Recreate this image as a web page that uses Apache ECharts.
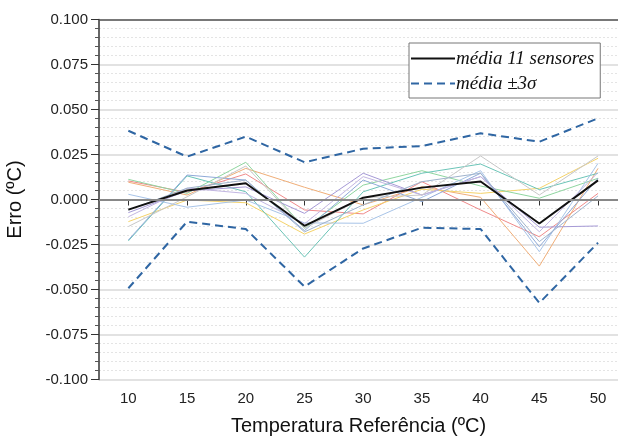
<!DOCTYPE html>
<html>
<head>
<meta charset="utf-8">
<script src="https://cdn.jsdelivr.net/npm/echarts@6/dist/echarts.min.js"></script>
<style>
  html, body { margin: 0; padding: 0; background: #fff; }
  #chart { width: 618px; height: 437px; }
</style>
</head>
<body>
<div id="chart"></div>
<script>
// temperaturas de referência
const temps = [10, 15, 20, 25, 30, 35, 40, 45, 50]

// erro de cada sensor
const s1 = [0.0103, 0.0040, 0.0142, -0.0058, -0.0080, 0.0099, -0.0058, -0.0207, 0.0034]
const s2 = [0.0096, 0.0025, 0.0173, 0.0068, -0.0030, 0.0071, 0.0012, -0.0370, 0.0173]
const s3 = [-0.0123, -0.0003, -0.0018, -0.0192, -0.0058, 0.0057, 0.0034, 0.0062, 0.0229]
const s4 = [0.0112, 0.0034, 0.0207, -0.0160, 0.0080, 0.0160, 0.0075, 0.0007, 0.0118]
const s5 = [-0.0230, 0.0131, 0.0043, -0.0320, 0.0043, 0.0146, 0.0197, 0.0055, 0.0146]
const s6 = [0.0029, -0.0043, -0.0003, -0.0130, -0.0132, 0.0012, 0.0160, -0.0290, 0.0201]
const s7 = [-0.0225, 0.0136, 0.0108, -0.0173, 0.0108, -0.0012, 0.0146, -0.0262, 0.0118]
const s8 = [-0.0073, 0.0048, 0.0070, -0.0077, 0.0146, 0.0025, 0.0127, -0.0154, -0.0147]
const s9 = [-0.0096, 0.0063, 0.0034, -0.0135, 0.0127, 0.0025, 0.0127, -0.0179, 0.0150]
const s10 = [-0.0150, 0.0015, 0.0186, -0.0160, 0.0010, 0.0025, 0.0242, 0.0025, 0.0242]
const s11 = [-0.0059, 0.0063, 0.0108, -0.0180, -0.0030, 0.0099, 0.0146, -0.0234, 0.0020]
const sensors = [s1, s2, s3, s4, s5, s6, s7, s8, s9, s10, s11]
const sensorColors = ['#f08a8a', '#f0ae78', '#f5d36a', '#8fd6a0', '#6cc5b8', '#a8c4e8',
  '#8faad8', '#a69ad6', '#c2b6e2', '#c8c8c8', '#9fb3cc']

// média e média ± 3 sigma
const media = [-0.0056, 0.0050, 0.0090, -0.0146, 0.0010, 0.0066, 0.0100, -0.0133, 0.0106]
const upper = [0.0382, 0.0238, 0.0349, 0.0207, 0.0282, 0.0297, 0.0368, 0.0321, 0.0451]
const lower = [-0.0493, -0.0123, -0.0164, -0.0484, -0.0272, -0.0157, -0.0164, -0.0575, -0.0240]

const pairs = arr => arr.map((v, i) => [temps[i], v])

const chart = echarts.init(document.getElementById('chart'))

const series = sensors.map((s, i) => ({
  type: 'line',
  data: pairs(s),
  symbol: 'none',
  silent: true,
  lineStyle: { width: 1, color: sensorColors[i] },
  z: 2
}))

series.push({
  name: 'média ±3σ',
  type: 'line',
  data: pairs(upper),
  symbol: 'none',
  lineStyle: { width: 2, color: '#2f66a3', type: [8, 5] },
  itemStyle: { color: '#2f66a3' },
  z: 3,
  markLine: {
    silent: true,
    symbol: 'none',
    label: { show: false },
    data: [
      { yAxis: 0, lineStyle: { color: '#888', width: 2, type: 'solid' } },
      { yAxis: 0.1, lineStyle: { color: '#555', width: 1.5, type: 'solid' } }
    ]
  }
})
series.push({
  name: 'média ±3σ',
  type: 'line',
  data: pairs(lower),
  symbol: 'none',
  lineStyle: { width: 2, color: '#2f66a3', type: [8, 5] },
  itemStyle: { color: '#2f66a3' },
  z: 3
})
series.push({
  name: 'média 11 sensores',
  type: 'line',
  data: pairs(media),
  symbol: 'none',
  lineStyle: { width: 2, color: '#111' },
  itemStyle: { color: '#111' },
  z: 4
})

const option = {
  animation: false,
  backgroundColor: '#fff',
  grid: { left: 99, right: 0, top: 19.5, bottom: 57.5, outerBoundsMode: 'none' },
  legend: {
    data: ['média 11 sensores', 'média ±3σ'],
    orient: 'vertical',
    left: 409,
    top: 43,
    itemWidth: 44,
    itemHeight: 12,
    itemGap: 6,
    padding: [6, 6, 5, 1],
    borderColor: '#777',
    borderWidth: 1,
    backgroundColor: '#fff',
    itemStyle: { opacity: 0 },
    textStyle: {
      fontFamily: 'Liberation Serif',
      fontStyle: 'italic',
      fontSize: 19,
      color: '#111',
      padding: [0, 0, 0, -4]
    }
  },
  xAxis: {
    type: 'value',
    min: 7.5,
    max: 51.7,
    name: 'Temperatura Referência (ºC)',
    nameLocation: 'middle',
    nameGap: 37,
    nameTextStyle: { fontFamily: 'Liberation Sans', fontSize: 20, color: '#111' },
    axisLine: { show: true, lineStyle: { color: '#333', width: 1.5 } },
    axisTick: { show: true, length: 6, customValues: temps, lineStyle: { color: '#333' } },
    axisLabel: { customValues: temps, fontFamily: 'Liberation Sans', fontSize: 15, color: '#222', margin: 12 },
    splitLine: { show: false }
  },
  yAxis: {
    type: 'value',
    min: -0.1,
    max: 0.1,
    interval: 0.025,
    name: 'Erro (ºC)',
    nameLocation: 'middle',
    nameGap: 74,
    nameTextStyle: { fontFamily: 'Liberation Sans', fontSize: 20, color: '#111' },
    axisLine: { show: true, lineStyle: { color: '#333', width: 1.5 } },
    axisTick: { show: true, length: 8, lineStyle: { color: '#333' } },
    minorTick: { show: true, splitNumber: 5, length: 4, lineStyle: { color: '#555' } },
    axisLabel: {
      fontFamily: 'Liberation Sans',
      fontSize: 15,
      color: '#222',
      margin: 11,
      formatter: v => v.toFixed(3)
    },
    splitLine: { show: true, lineStyle: { color: '#e2e2e2', width: 2 } },
    minorSplitLine: { show: true, lineStyle: { color: '#e4e4e4', width: 1, type: [2, 2] } }
  },
  series: series
}

chart.setOption(option)
</script>
</body>
</html>
